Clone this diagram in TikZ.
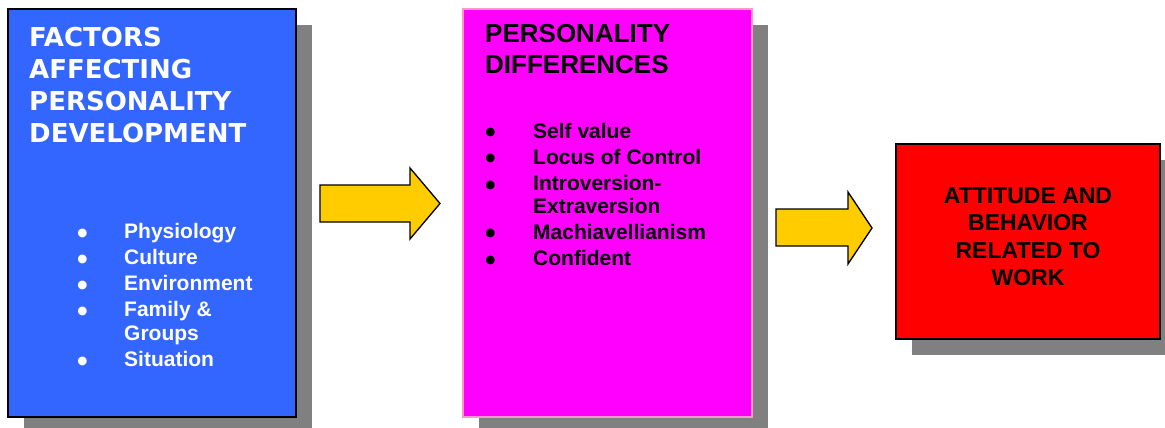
\documentclass[tikz,border=0pt]{standalone}
\usepackage{fontspec}
\usepackage{graphicx}
\setmainfont{Liberation Sans}
\newfontfamily\verdanafont{DejaVu Sans}
\usetikzlibrary{positioning,shadows}

\definecolor{factorblue}{HTML}{3366FF}
\definecolor{persmagenta}{HTML}{FF00FF}
\definecolor{pinkline}{HTML}{FF99CC}
\definecolor{workred}{HTML}{FF0000}
\definecolor{arrowyellow}{HTML}{FFCC00}
\definecolor{shadowgray}{HTML}{808080}

\newcommand{\listdot}{\smash{\raisebox{-5pt}{\scalebox{1.45}{\textbullet}}}}

\tikzset{
  box/.style={rectangle, draw=black, line width=1.3pt, inner sep=0pt,
    drop shadow={shadow xshift=16pt, shadow yshift=-16pt, fill=shadowgray, opacity=1}},
  blockarrow/.style={draw=black, line width=1.3pt, fill=arrowyellow, line join=miter},
  boxtext/.style={anchor=base west, inner sep=0pt},
  listtext/.style={boxtext, font=\bfseries\fontsize{21}{26}\selectfont},
}

\begin{document}
\begin{tikzpicture}[x=1pt, y=-1pt]
    \useasboundingbox (0,0) rectangle (1165,428);

    % Factors
    \node[box, fill=factorblue, minimum width=288pt, minimum height=408pt] (factors) at (152,213) {};
    \node[boxtext, text=white, font=\verdanafont\bfseries\fontsize{26}{32}\selectfont] (factitle) at (29,47)
      {\begin{tabular}[t]{@{}l@{}}
        FACTORS\\AFFECTING\\PERSONALITY\\DEVELOPMENT
      \end{tabular}};
    \node[listtext, text=white] (faclist) at (77,238)
      {\begin{tabular}[t]{@{}p{47pt}@{}l@{}}
        \listdot & Physiology\\
        \listdot & Culture\\
        \listdot & Environment\\
        \listdot & Family \&\\[-2pt]
                 & Groups\\
        \listdot & Situation
      \end{tabular}};

    % Arrow 1
    \draw[blockarrow] (320,185) -- (410,185) -- (410,168) -- (440,203.5)
      -- (410,239) -- (410,222) -- (320,222) -- cycle;

    % Personality differences
    \node[box, draw=pinkline, fill=persmagenta, minimum width=289pt, minimum height=408pt] (persdiff) at (607.5,213) {};
    \node[boxtext, font=\bfseries\fontsize{26}{31}\selectfont] (perstitle) at (485,43)
      {\begin{tabular}[t]{@{}l@{}}
        PERSONALITY\\DIFFERENCES
      \end{tabular}};
    \node[listtext] (perslist) at (485,138)
      {\begin{tabular}[t]{@{}p{48pt}@{}l@{}}
        \listdot & Self value\\
        \listdot & Locus of Control\\
        \listdot & Introversion-\\[-3pt]
                 & Extraversion\\
        \listdot & Machiavellianism\\
        \listdot & Confident
      \end{tabular}};

    % Arrow 2
    \draw[blockarrow] (776,209) -- (848,209) -- (848,192) -- (872,228)
      -- (848,264) -- (848,246) -- (776,246) -- cycle;

    % Attitude
    \node[box, fill=workred, minimum width=264pt, minimum height=195pt] (attitude) at (1028,241.5) {};
    \node[anchor=base, inner sep=0pt, font=\bfseries\fontsize{23}{27.5}\selectfont] (atttext) at (1028,203)
      {\begin{tabular}[t]{@{}c@{}}
        ATTITUDE AND\\BEHAVIOR\\RELATED TO\\WORK
      \end{tabular}};
\end{tikzpicture}
\end{document}
